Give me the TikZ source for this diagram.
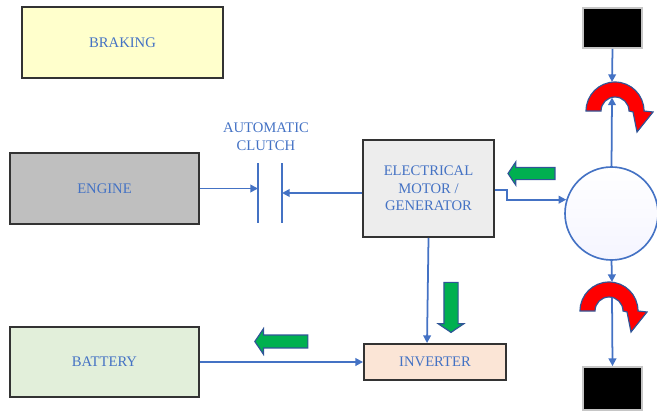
\documentclass[tikz,border=0pt]{standalone}
\usepackage{fontspec}
\setmainfont{Liberation Serif}
\usetikzlibrary{arrows.meta,shapes.arrows}

\definecolor{wireblue}{HTML}{4472C4}
\definecolor{flowgreen}{HTML}{00B050}
\definecolor{flowedge}{HTML}{2F5597}
\definecolor{brakefill}{HTML}{FFFFCC}
\definecolor{enginefill}{HTML}{BFBFBF}
\definecolor{motorfill}{HTML}{EDEDED}
\definecolor{batteryfill}{HTML}{E2EFDA}
\definecolor{inverterfill}{HTML}{FBE5D6}

\begin{document}
\begin{tikzpicture}[
  x=0.03cm, y=0.03cm,
  % Block styles
  block/.style={
    rectangle,
    draw=black!80,
    line width=1.6pt,
    fill=#1,
    align=center,
    text=wireblue,
    font=\fontsize{12.5}{15}\selectfont
  },
  blackbox/.style={
    rectangle,
    fill=black,
    draw=gray!45,
    line width=1.5pt,
    minimum width=1.77cm
  },
  wheelnode/.style={
    circle,
    draw=wireblue,
    line width=1.4pt,
    shading angle=135,
    top color=white,
    bottom color=blue!4,
    minimum size=2.79cm
  },
  % Connector styles
  wire/.style={draw=wireblue, line width=1.5pt},
  link/.style={wire, -{Triangle[length=2.3mm,width=2.3mm]}},
  % Power flow arrows
  flow/.style={
    single arrow,
    draw=flowedge,
    fill=flowgreen,
    line width=1pt,
    minimum height=#1,
    inner sep=0.175cm,
    single arrow head extend=0.17cm,
    single arrow tip angle=112
  },
  curlarrow/.style={fill=red, draw=flowedge, line width=1pt},
  curl/.pic={
    \draw[curlarrow] (-29,0) arc[start angle=180, end angle=0, radius=29]
      -- (38,-1) -- (22,-21) -- (18,-1) -- (14,0)
      arc[start angle=0, end angle=180, radius=14] -- cycle;
  }
]
\useasboundingbox (0,0) rectangle (657,412);

% === NODES ===
\node[block=brakefill, minimum width=6.03cm, minimum height=2.13cm] (braking) at (122.5,369.5) {BRAKING};
\node[block=enginefill, minimum width=5.67cm, minimum height=2.13cm] (engine) at (104.5,223.5) {ENGINE};
\node[block=batteryfill, minimum width=5.67cm, minimum height=2.1cm] (battery) at (104.5,50) {BATTERY};
\node[block=motorfill, minimum width=3.93cm, minimum height=2.91cm] (motor) at (428.5,223.5) {ELECTRICAL\\MOTOR /\\GENERATOR};
\node[block=inverterfill, minimum width=4.26cm, minimum height=1.08cm] (inverter) at (435,50) {INVERTER};

\node[align=center, text=wireblue, font=\fontsize{12.5}{15}\selectfont] (clutch) at (266,275) {AUTOMATIC\\CLUTCH};

\node[wheelnode] (wheel) at (611.5,198.5) {};
\node[blackbox, minimum height=1.2cm] (topblock) at (612.5,384) {};
\node[blackbox, minimum height=1.29cm] (botblock) at (612.5,23.5) {};

% clutch plates
\coordinate (plateL) at (258,219);
\coordinate (plateR) at (282,219);
\draw[wire] (plateL) ++(0,30) -- ++(0,-60);
\draw[wire] (plateR) ++(0,30) -- ++(0,-60);

% wheel torque arrows
\coordinate (topcurl) at (615,301);
\coordinate (botcurl) at (609,101);
\pic at (topcurl) {curl};
\pic at (botcurl) {curl};
\coordinate (topout) at (612,330);
\coordinate (topin) at (612,314.5);
\coordinate (botout) at (612,130);
\coordinate (botin) at (612,114.5);

% power flow
\node[flow=1.41cm, shape border rotate=180, inner sep=0.165cm, single arrow head extend=0.165cm] (motorflow) at (533.5,238.5) {};
\node[flow=1.5cm, shape border rotate=270, inner sep=0.195cm] (invflow) at (451,107) {};
\node[flow=1.59cm, shape border rotate=180, single arrow head extend=0.19cm] (batflow) at (283.5,70.5) {};

% === ARROWS ===
\draw[link] (engine.east) -- (plateL |- engine.east);
\draw[link] ([yshift=-0.135cm]motor.west) -- (plateR);
\draw[link] ([yshift=-0.045cm]motor.east) -- ++(12,0) |- (wheel.163);
\draw[link] (motor.south) -- ([xshift=-0.24cm]inverter.north);
\draw[link] (battery.east) -- (inverter.west);

\draw[link] (topblock.south) -- (topout);
\draw[link] (wheel.north) -- (topin);
\draw[link] (wheel.south) -- (botout);
\draw[link] (botin) -- (botblock.north);

\end{tikzpicture}
\end{document}
